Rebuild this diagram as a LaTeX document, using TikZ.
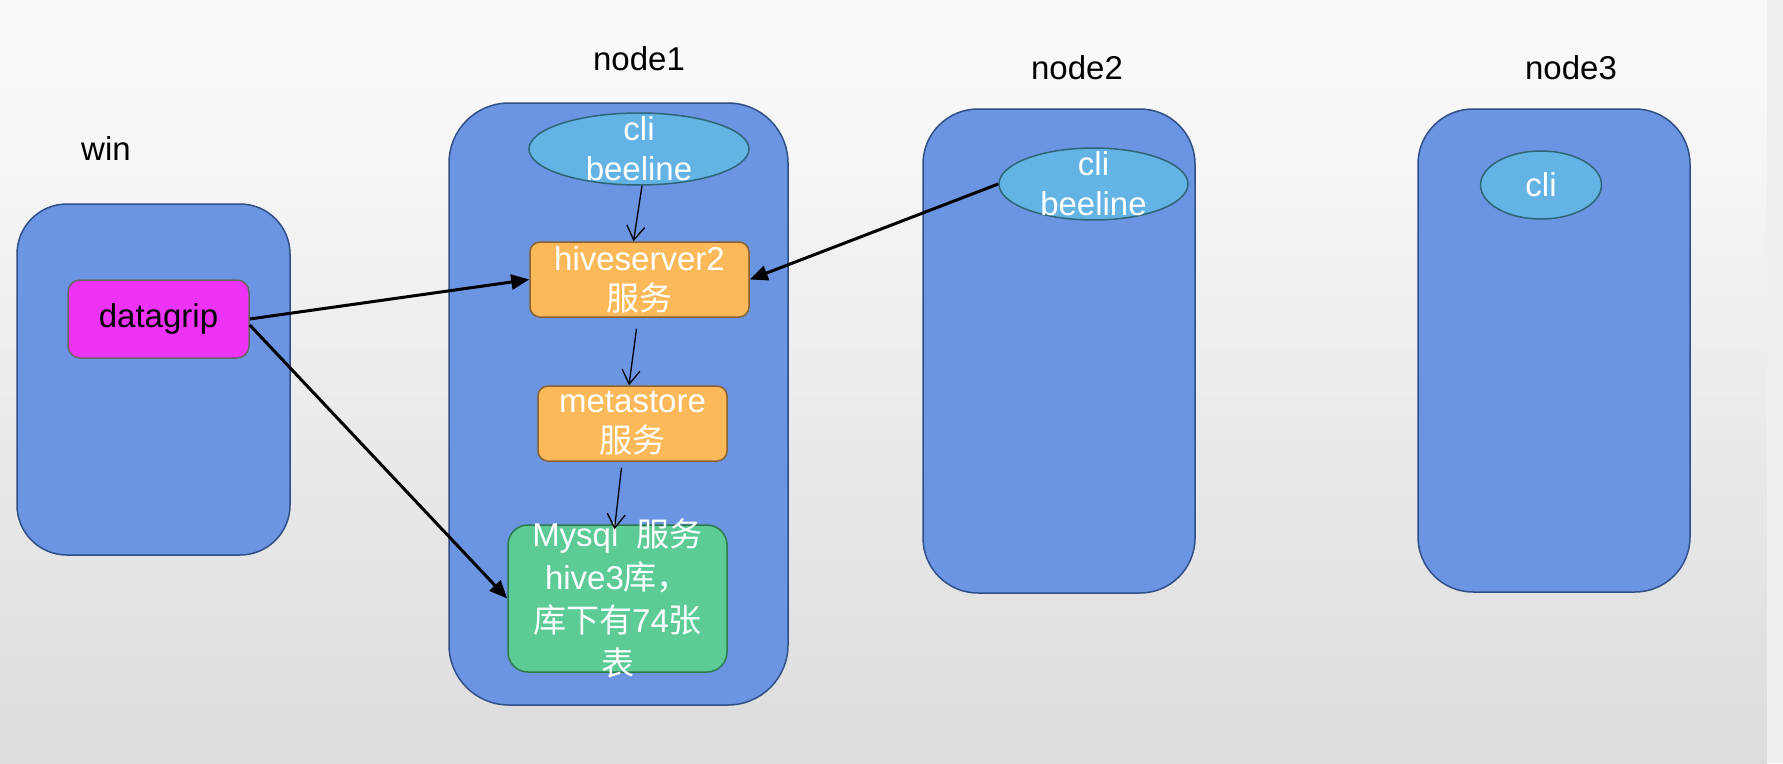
\documentclass[tikz,border=0pt]{standalone}
\usepackage{fontspec}
\setmainfont{Liberation Sans}
\newfontfamily\cjk{Noto Sans CJK SC}
\usetikzlibrary{shapes,positioning,arrows.meta}

\definecolor{boxblue}{HTML}{6B95E2}
\definecolor{boxline}{HTML}{2F4F86}
\definecolor{cliblue}{HTML}{63B3E4}
\definecolor{cliline}{HTML}{2E6677}
\definecolor{svcorange}{HTML}{FBB95A}
\definecolor{svcline}{HTML}{8C6230}
\definecolor{dbgreen}{HTML}{5CCB95}
\definecolor{dbline}{HTML}{2F7A4A}
\definecolor{dgpink}{HTML}{EE33F7}
\definecolor{dgline}{HTML}{666666}
\definecolor{bgtop}{HTML}{F9F9F9}
\definecolor{bgbot}{HTML}{DCDCDC}
\definecolor{bgside}{HTML}{EFEFF1}

\begin{document}
\begin{tikzpicture}[x=1pt, y=-1pt, font=\fontsize{33pt}{40pt}\selectfont]

        % boxes are given by their centre and size in pixels
        \tikzset{
            host/.style={draw=boxline, fill=boxblue, line width=1.5pt,
                rounded corners=#1, inner sep=0pt},
            cli/.style={ellipse, draw=cliline, fill=cliblue, line width=1.5pt,
                inner sep=0pt},
            svc/.style={draw=svcline, fill=svcorange, line width=1.5pt,
                rounded corners=10pt, inner sep=0pt},
            db/.style={draw=dbline, fill=dbgreen, line width=1.5pt,
                rounded corners=20pt, inner sep=0pt},
            tool/.style={draw=dgline, fill=dgpink, line width=1.5pt,
                rounded corners=12pt, inner sep=0pt},
            wtxt/.style={text=white, align=center, inner sep=0pt},
            thin arrow/.style={line width=1.3pt,
                -{Straight Barb[length=14pt,width=18pt]}},
            thick arrow/.style={line width=3pt,
                -{Triangle[length=18pt,width=15pt]}}
        }

        % background
        \fill[bgtop] (0,0) rectangle (1767,75);
        \shade[top color=bgtop, bottom color=bgbot] (0,75) rectangle (1767,763);
        \fill[bgside] (1767,0) rectangle (1783,763);
        \useasboundingbox (0,0) rectangle (1783,763);

        \begin{scope}
            \node (LW) at (106,149) {win};
            \node (L1) at (639,59) {node1};
            \node (L2) at (1077,68) {node2};
            \node (L3) at (1571,68) {node3};

            \node[host=50pt, minimum width=273pt, minimum height=351pt]
            (W) at (153.5,379.5) {};
            \node[host=60pt, minimum width=339pt, minimum height=602pt]
            (N1) at (618.5,404) {};
            \node[host=55pt, minimum width=272pt, minimum height=484pt]
            (N2) at (1059,351) {};
            \node[host=55pt, minimum width=272pt, minimum height=483pt]
            (N3) at (1554,350.5) {};

            \node[tool, minimum width=181pt, minimum height=78pt]
            (DG) at (158.5,319) {datagrip};

            \node[cli, minimum width=220pt, minimum height=72pt,
                label={[wtxt]center:cli\\beeline}]
            (CL1) at (639,149) {};
            \node[svc, minimum width=219pt, minimum height=75pt,
                label={[wtxt]center:hiveserver2\\{\cjk 服务}}]
            (HS) at (639.5,279.5) {};
            \node[svc, minimum width=189pt, minimum height=75pt,
                label={[wtxt]center:metastore\\{\cjk 服务}}]
            (MS) at (632.5,423.5) {};
            \node[db, minimum width=219pt, minimum height=147pt,
                label={[wtxt, font=\fontsize{33pt}{43pt}\selectfont]center:Mysql~~{\cjk 服务}\\hive3{\cjk 库，}\\{\cjk 库下有}74{\cjk 张}\\{\cjk 表}}]
            (DB) at (617.5,598.5) {};

            \node[cli, minimum width=189pt, minimum height=72pt,
                label={[wtxt]center:cli\\beeline}]
            (CL2) at (1093.5,184) {};
            \node[cli, minimum width=121pt, minimum height=68pt, text=white]
            (CL3) at (1541,185) {cli};
        \end{scope}

        \begin{scope}
            \draw[thin arrow] ([shift={(3,0)}]CL1.south) -- ([shift={(-6,0)}]HS.north);
            \draw[thin arrow] ([shift={(-3,11)}]HS.south) -- ([shift={(-3.5,0)}]MS.north);
            \draw[thin arrow] ([shift={(-11,6)}]MS.south) -- ([shift={(-3,5)}]DB.north);

            \draw[thick arrow] (DG.east) -- (HS.west);
            \draw[thick arrow] ([shift={(0,6)}]DG.east) -- (DB.west);
            \draw[thick arrow] (CL2.west) -- (HS.east);
        \end{scope}

\end{tikzpicture}
\end{document}
